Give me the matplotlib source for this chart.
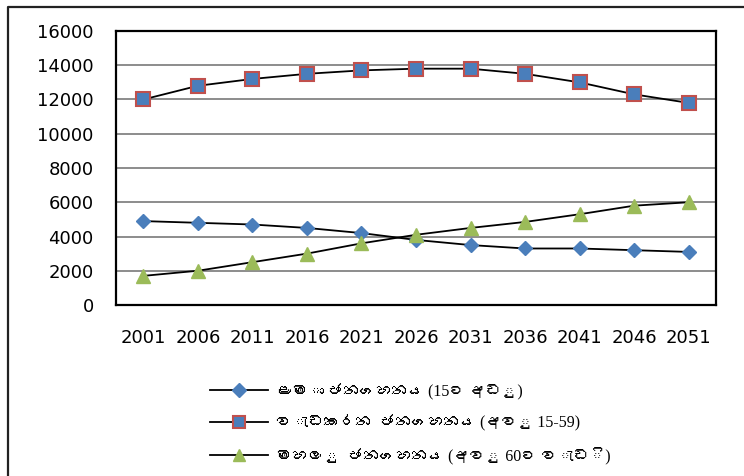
import matplotlib
matplotlib.use("Agg")
import matplotlib.pyplot as plt
from matplotlib import font_manager
from matplotlib.ft2font import FT2Font
from matplotlib.lines import Line2D

# Data
years = ["2001", "2006", "2011", "2016", "2021", "2026", "2031", "2036", "2041", "2046", "2051"]
children = [4900, 4800, 4700, 4500, 4200, 3800, 3500, 3300, 3300, 3200, 3100]
working = [12000, 12800, 13200, 13500, 13700, 13800, 13800, 13500, 13000, 12300, 11800]
elderly = [1700, 2000, 2500, 3000, 3600, 4100, 4500, 4850, 5300, 5800, 6000]
labels = [
    "ළමා ජනගහනය (15ට අඩු)",
    "වැඩකරන  ජනගහනය (අවු 15-59)",
    "මහලු  ජනගහනය (අවු 60ට වැඩි)",
]


# Look for an installed font that has Sinhala glyphs, otherwise fall back
def find_sinhala_font():
    for path in font_manager.findSystemFonts():
        try:
            if 0x0DC5 in FT2Font(path).get_charmap():
                return font_manager.FontProperties(fname=path).get_name()
        except Exception:
            pass
    return None


sinhala = find_sinhala_font()
legend_family = ["Liberation Serif", sinhala] if sinhala else ["Liberation Serif", "DejaVu Sans"]

fig = plt.figure(figsize=(7.44, 4.76), dpi=100)
ax = fig.add_axes([116 / 744, 1 - 305 / 476, 600 / 744, 274 / 476])

x = list(range(len(years)))
ax.plot(x, children, color="black", lw=1.3, marker="D", ms=7,
        mfc="#4A7EBB", mec="#4A7EBB", zorder=3)
ax.plot(x, working, color="black", lw=1.3, marker="s", ms=10,
        mfc="#4A7EBB", mec="#C0504D", mew=1.5, zorder=3)
ax.plot(x, elderly, color="black", lw=1.3, marker="^", ms=10,
        mfc="#9BBB59", mec="#9BBB59", zorder=3)

ax.set_xlim(-0.5, len(years) - 0.5)
ax.set_ylim(0, 16000)
ax.set_yticks(range(0, 16001, 2000))
ax.set_xticks(x)
ax.set_xticklabels(years)
ax.tick_params(length=0, labelsize=13)
ax.tick_params(axis="y", pad=16)
ax.tick_params(axis="x", pad=17)
ax.yaxis.grid(True, color="#8c8c8c", lw=1.4)
ax.set_axisbelow(True)
for s in ax.spines.values():
    s.set_linewidth(1.6)
    s.set_color("black")

# Legend below the chart
handles = [
    Line2D([], [], color="black", lw=1.3, marker="D", ms=7, mfc="#4A7EBB", mec="#4A7EBB"),
    Line2D([], [], color="black", lw=1.3, marker="s", ms=9, mfc="#4A7EBB", mec="#C0504D", mew=1.5),
    Line2D([], [], color="black", lw=1.3, marker="^", ms=9, mfc="#9BBB59", mec="#9BBB59"),
]
fig.legend(handles, labels, loc="upper left", bbox_to_anchor=(196 / 744, 1 - 369 / 476),
           frameon=False, handlelength=3.6, labelspacing=0.95, handletextpad=0.5,
           prop={"family": legend_family, "size": 11.5})

# Outer chart border (top and left edges visible)
fig.add_artist(Line2D([8 / 744, 8 / 744, 1], [0, 1 - 7 / 476, 1 - 7 / 476],
                      color="#222222", lw=1.6, transform=fig.transFigure))

fig.savefig("out.png", dpi=100)
